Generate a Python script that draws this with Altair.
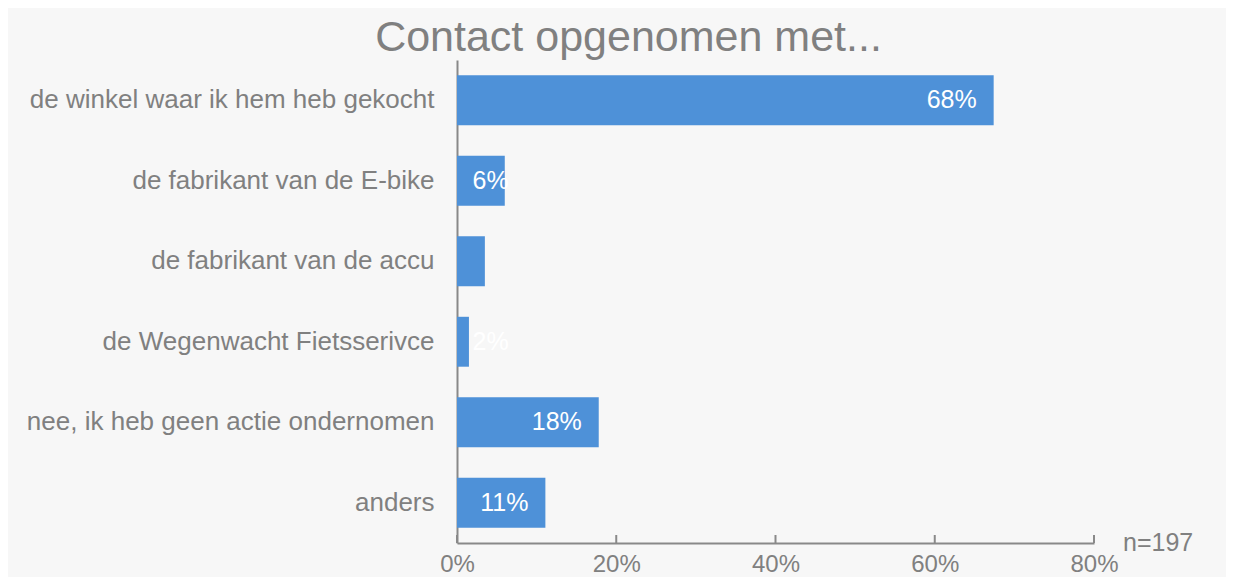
import altair as alt
import pandas as pd

categories = [
    "de winkel waar ik hem heb gekocht",
    "de fabrikant van de E-bike",
    "de fabrikant van de accu",
    "de Wegenwacht Fietsserivce",
    "nee, ik heb geen actie ondernomen",
    "anders",
]
values = [67.4, 6.0, 3.5, 1.5, 17.8, 11.1]
labels = ["68%", "6%", "", "2%", "18%", "11%"]
ticks = [0, 20, 40, 60, 80]
note = ["n=197"]

df = pd.DataFrame({"cat": categories, "v": values, "lab": labels})
tick_df = pd.DataFrame({"t": ticks})
note_df = pd.DataFrame({"t": note})

W, H = 637, 483
FONT = "Liberation Sans"
GRAY = "#808080"
AXIS = "#898989"
BLUE = "#4e91d8"

xscale = alt.Scale(domain=[0, 80], nice=False, zero=True)
yscale = alt.Scale(paddingInner=0.38, paddingOuter=0.19)

base = alt.Chart(df)

bars = base.mark_bar(color=BLUE).encode(
    x=alt.X(
        "v:Q",
        scale=xscale,
        axis=alt.Axis(
            values=ticks,
            labelExpr="datum.value + '%'",
            labelFlush=False,
            domain=True,
            domainColor=AXIS,
            domainWidth=2,
            ticks=False,
            grid=False,
            labelFontSize=24,
            labelColor=GRAY,
            labelFont=FONT,
            labelPadding=9,
            title=None,
        ),
    ),
    y=alt.Y(
        "cat:N",
        sort=categories,
        scale=yscale,
        axis=alt.Axis(
            domain=True,
            domainColor=AXIS,
            domainWidth=2,
            ticks=False,
            grid=False,
            labelFontSize=26,
            labelColor=GRAY,
            labelFont=FONT,
            labelPadding=23,
            labelLimit=0,
            title=None,
        ),
    ),
)

tick_marks = alt.Chart(tick_df).mark_rule(color=AXIS, strokeWidth=2).encode(
    x=alt.X("t:Q", scale=xscale),
    y=alt.value(H - 8),
    y2=alt.value(H),
)

bar_labels = base.transform_calculate(
    lx="max(datum.v - 2.13, 6.5)"
).mark_text(
    align="right", baseline="middle", color="white", fontSize=25, font=FONT
).encode(
    x=alt.X("lx:Q", scale=xscale),
    y=alt.Y("cat:N", sort=categories, scale=yscale),
    text="lab:N",
)

note_text = alt.Chart(note_df).mark_text(
    align="left", baseline="alphabetic", fontSize=25, font=FONT, color=GRAY
).encode(
    x=alt.value(666),
    y=alt.value(491),
    text="t:N",
)

chart = (
    alt.layer(bars, tick_marks, bar_labels, note_text)
    .properties(
        width=W,
        height=H,
        title=alt.TitleParams(
            "Contact opgenomen met...",
            fontSize=43,
            font=FONT,
            fontWeight="normal",
            color=GRAY,
            anchor="middle",
            dx=-147,
            offset=0,
        ),
        background="#f7f7f7",
        padding={"left": 449, "top": 52, "right": 132, "bottom": 34},
        autosize="none",
    )
    .configure_view(stroke=None)
)

chart.save("out.html", embed_options={"renderer": "svg", "actions": False})
